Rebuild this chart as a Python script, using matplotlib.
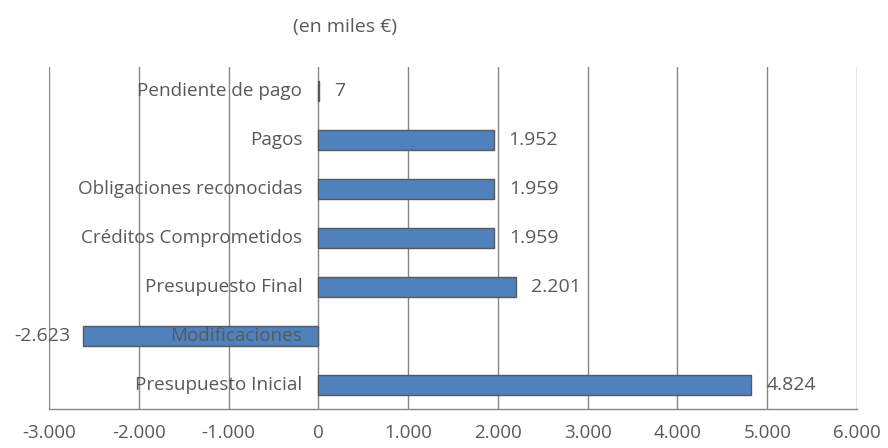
import matplotlib
matplotlib.use("Agg")
import matplotlib.pyplot as plt
from matplotlib.ticker import FuncFormatter, MultipleLocator
from matplotlib.transforms import offset_copy

categories = ["Presupuesto Inicial", "Modificaciones", "Presupuesto Final",
              "Créditos Comprometidos", "Obligaciones reconocidas", "Pagos",
              "Pendiente de pago"]
values = [4824, -2623, 2201, 1959, 1959, 1952, 7]
title = "(en miles €)"

def es_fmt(v):
    s = f"{abs(int(round(v))):,}".replace(",", ".")
    return ("-" if v < 0 else "") + s

plt.rcParams['font.family'] = ['Open Sans', 'DejaVu Sans']
TXT = "#595959"
GRID = "#868686"

fig = plt.figure(figsize=(8.88, 4.48), dpi=100)
ax = fig.add_axes([49/888, 1 - 409/448, (857-49)/888, (409-67)/448])

ypos = list(range(len(categories)))
ax.barh(ypos, values, height=0.41, color="#4F81BD", edgecolor="#595959",
        linewidth=1.0, zorder=3)

ax.set_xlim(-3000, 6000)
ax.set_ylim(-0.5, len(categories) - 0.5)
ax.xaxis.set_major_locator(MultipleLocator(1000))
ax.xaxis.set_major_formatter(FuncFormatter(lambda v, p: es_fmt(v)))
ax.grid(axis="x", color=GRID, linewidth=1.0, zorder=0)
ax.set_yticks([])
for s in ["top", "left", "right"]:
    ax.spines[s].set_visible(False)
ax.spines["bottom"].set_color(GRID)
ax.spines["bottom"].set_linewidth(1.0)
ax.tick_params(axis="x", length=0, pad=11, labelsize=13.5, labelcolor=TXT)

# category labels at the zero line
lab_tr = offset_copy(ax.transData, fig=fig, x=-16, y=0, units="dots")
for y, c in zip(ypos, categories):
    ax.text(0, y, c, transform=lab_tr, ha="right", va="center",
            fontsize=13.6, color=TXT, zorder=4)

# value labels
pos_tr = offset_copy(ax.transData, fig=fig, x=15, y=0, units="dots")
neg_tr = offset_copy(ax.transData, fig=fig, x=-12, y=0, units="dots")
for y, v in zip(ypos, values):
    if v >= 0:
        ax.text(v, y, es_fmt(v), transform=pos_tr, ha="left", va="center",
                fontsize=14, color=TXT, zorder=4)
    else:
        ax.text(v, y, es_fmt(v), transform=neg_tr, ha="right", va="center",
                fontsize=14, color=TXT, zorder=4)

fig.text(345/888, 1 - 27/448, title, ha="center", va="center",
         fontsize=14, color=TXT)

fig.savefig("out.png", dpi=100)
